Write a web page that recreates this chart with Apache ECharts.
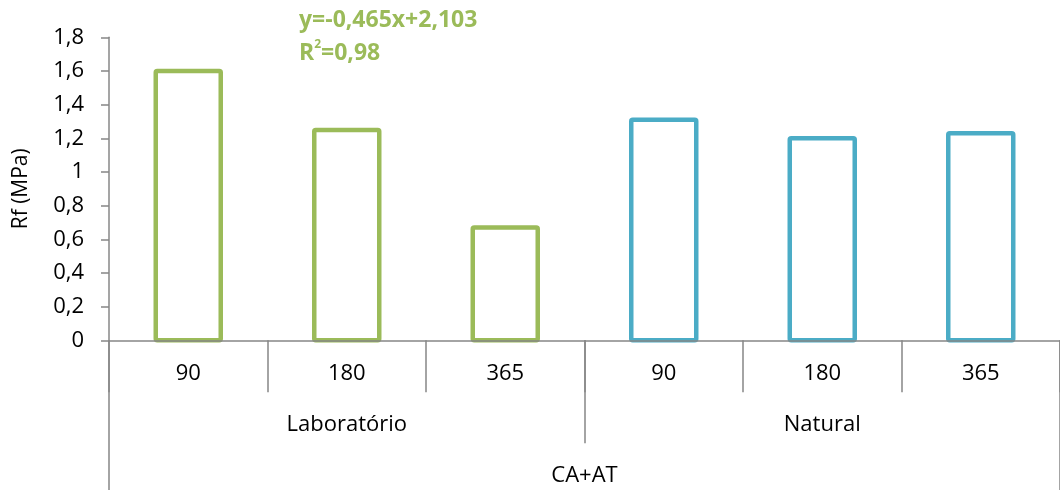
<!DOCTYPE html>
<html>
<head>
<meta charset="utf-8">
<script src="https://cdn.jsdelivr.net/npm/echarts@6/dist/echarts.min.js"></script>
<style>html,body{margin:0;padding:0;background:#fff}#c{width:1060px;height:490px}</style>
</head>
<body>
<div id="c"></div>
<script>
const ages = ['90', '180', '365', '90', '180', '365'];
const conditions = ['Laboratório', 'Natural'];
const groupLabel = ['CA+AT'];
const rfValues = [1.60, 1.25, 0.67, 1.31, 1.20, 1.23];
const yTicks = { min: 0, max: 1.8, interval: 0.2 };
const yAxisName = 'Rf (MPa)';
const eqLine = 'y=-0,465x+2,103';
const r2Value = '0,98';

const green = '#9BBB59', blue = '#4BACC6', axisGrey = '#878787';
const FONT = 'Open Sans';
const barColor = i => (i < 3 ? green : blue);

const chart = echarts.init(document.getElementById('c'), null, { renderer: 'canvas' });
const baseAxis = {
  type: 'category', position: 'bottom', gridIndex: 0,
  axisLine: { show: false },
  axisTick: { show: true, alignWithLabel: false, interval: 0, lineStyle: { color: axisGrey, width: 1.5 } },
  axisLabel: { color: '#000', fontFamily: FONT, fontSize: 22, interval: 0 },
  splitLine: { show: false }
};
chart.setOption({
  animation: false,
  backgroundColor: '#fff',
  grid: { left: 109, top: 37.3, width: 959, height: 303, containLabel: false },
  xAxis: [
    Object.assign({}, baseAxis, {
      data: ages, z: 5,
      axisLine: { show: true, lineStyle: { color: axisGrey, width: 1.5 } },
      axisTick: Object.assign({}, baseAxis.axisTick, { length: 52 }),
      axisLabel: Object.assign({}, baseAxis.axisLabel, { margin: 22 })
    }),
    Object.assign({}, baseAxis, {
      data: conditions,
      axisTick: Object.assign({}, baseAxis.axisTick, { length: 103 }),
      axisLabel: Object.assign({}, baseAxis.axisLabel, { margin: 73 })
    }),
    Object.assign({}, baseAxis, {
      data: groupLabel,
      axisTick: Object.assign({}, baseAxis.axisTick, { length: 155 }),
      axisLabel: Object.assign({}, baseAxis.axisLabel, { margin: 124 })
    })
  ],
  yAxis: {
    type: 'value', min: yTicks.min, max: yTicks.max, interval: yTicks.interval,
    name: yAxisName, nameLocation: 'middle', nameGap: 77, nameRotate: 90,
    nameTextStyle: { color: '#000', fontFamily: FONT, fontSize: 21 },
    axisLine: { show: true, lineStyle: { color: axisGrey, width: 1.5 } },
    axisTick: { show: true, inside: false, length: 8, lineStyle: { color: axisGrey, width: 1.5 } },
    axisLabel: {
      color: '#000', fontFamily: FONT, fontSize: 22, margin: 25,
      formatter: v => String(+v.toFixed(1)).replace('.', ',')
    },
    splitLine: { show: false }
  },
  series: [{
    type: 'custom', xAxisIndex: 0, yAxisIndex: 0, z: 2,
    encode: { x: 0, y: 1 },
    data: rfValues.map((v, i) => [i, v]),
    renderItem: function (params, api) {
      const idx = api.value(0);
      const top = api.coord([idx, api.value(1)]);
      const base = api.coord([idx, 0]);
      const w = api.size([1, 0])[0] * 0.41;
      return {
        type: 'rect',
        shape: { x: top[0] - w / 2, y: top[1], width: w, height: base[1] - top[1], r: 1.5 },
        style: { fill: '#fff', stroke: barColor(params.dataIndex), lineWidth: 4.5, lineJoin: 'round' }
      };
    }
  }],
  graphic: [
    { type: 'text', left: 299, top: 9,
      style: { text: eqLine, fill: green, font: 'bold 23px "Open Sans"' } },
    { type: 'text', left: 299, top: 39,
      style: {
        text: '{a|R}{s|2}{a|=' + r2Value + '}',
        rich: {
          a: { fill: green, fontFamily: FONT, fontWeight: 'bold', fontSize: 23, verticalAlign: 'bottom' },
          s: { fill: green, fontFamily: FONT, fontWeight: 'bold', fontSize: 12, verticalAlign: 'top', padding: [0, 0, 14, 0] }
        }
      } }
  ]
});
</script>
</body>
</html>
